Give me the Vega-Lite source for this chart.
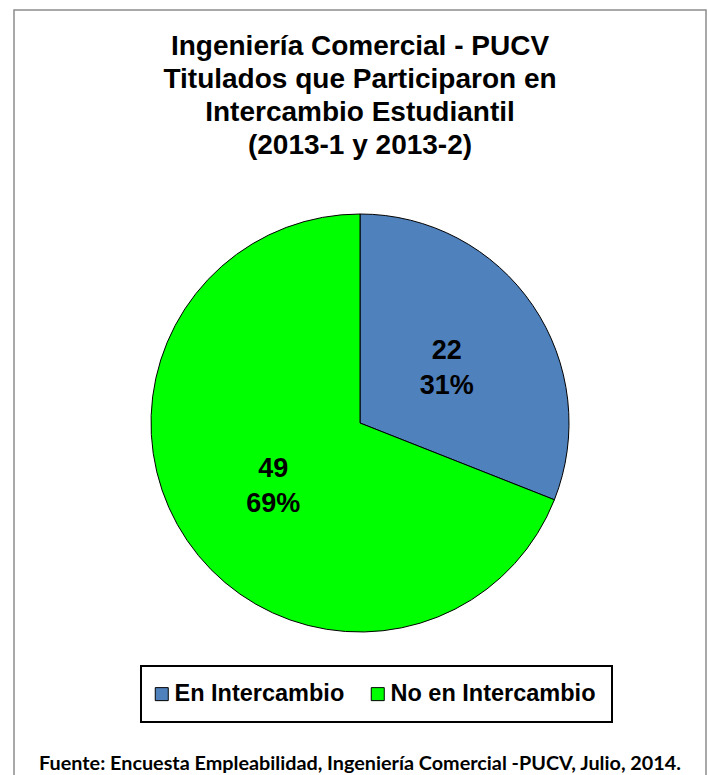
{
  "$schema": "https://vega.github.io/schema/vega-lite/v6.json",
  "width": 692,
  "height": 826,
  "autosize": {"type": "none"},
  "padding": {"left": 14, "top": 10, "right": 3, "bottom": -61},
  "background": "white",
  "view": {"stroke": "#8c8c8c", "strokeWidth": 1.5, "fill": "white"},
  "title": {
    "text": ["Ingeniería Comercial - PUCV", "Titulados que Participaron en", "Intercambio Estudiantil", "(2013-1 y 2013-2)"],
    "subtitle": "Fuente: Encuesta Empleabilidad, Ingeniería Comercial -PUCV, Julio, 2014.",
    "anchor": "middle",
    "orient": "top",
    "font": "Liberation Sans",
    "fontSize": 28,
    "fontWeight": "bold",
    "color": "black",
    "lineHeight": 33,
    "subtitleFont": "Lato",
    "subtitleFontSize": 19.8,
    "subtitleFontWeight": "bold",
    "subtitleColor": "black",
    "subtitlePadding": 594,
    "offset": -764
  },
  "data": {
    "values": [
      {"category": "En Intercambio", "count": 22, "pct": 0.31},
      {"category": "No en Intercambio", "count": 49, "pct": 0.69}
    ]
  },
  "layer": [
    {
      "mark": {"type": "arc", "outerRadius": 209, "stroke": "black", "strokeWidth": 1},
      "encoding": {
        "theta": {"field": "count", "type": "quantitative", "stack": true},
        "color": {
          "field": "category",
          "type": "nominal",
          "scale": {"domain": ["En Intercambio", "No en Intercambio"], "range": ["#4F81BD", "#00FF00"]},
          "legend": {
            "title": null,
            "orient": "none",
            "legendX": 127,
            "legendY": 656,
            "direction": "horizontal",
            "symbolType": "square",
            "symbolSize": 169,
            "symbolStrokeColor": "black",
            "symbolStrokeWidth": 1,
            "symbolOpacity": 1,
            "symbolOffset": -7,
            "labelFont": "Liberation Sans",
            "labelFontSize": 23.5,
            "labelFontWeight": "bold",
            "labelColor": "black",
            "labelLimit": 400,
            "labelOffset": 1,
            "columnPadding": 24,
            "padding": 16,
            "strokeColor": "black",
            "fillColor": "white",
            "encode": {"legend": {"update": {"strokeWidth": {"value": 2}}}}
          }
        }
      }
    },
    {
      "mark": {"type": "text", "radius": 105, "dy": -13, "fontSize": 27, "fontWeight": "bold", "font": "Liberation Sans", "color": "black"},
      "encoding": {
        "theta": {"field": "count", "type": "quantitative", "stack": true},
        "detail": {"field": "category", "type": "nominal"},
        "text": {"field": "count", "type": "quantitative"}
      }
    },
    {
      "mark": {"type": "text", "radius": 105, "dy": 22, "fontSize": 27, "fontWeight": "bold", "font": "Liberation Sans", "color": "black"},
      "encoding": {
        "theta": {"field": "count", "type": "quantitative", "stack": true},
        "detail": {"field": "category", "type": "nominal"},
        "text": {"field": "pct", "type": "quantitative", "format": ".0%"}
      }
    }
  ]
}
